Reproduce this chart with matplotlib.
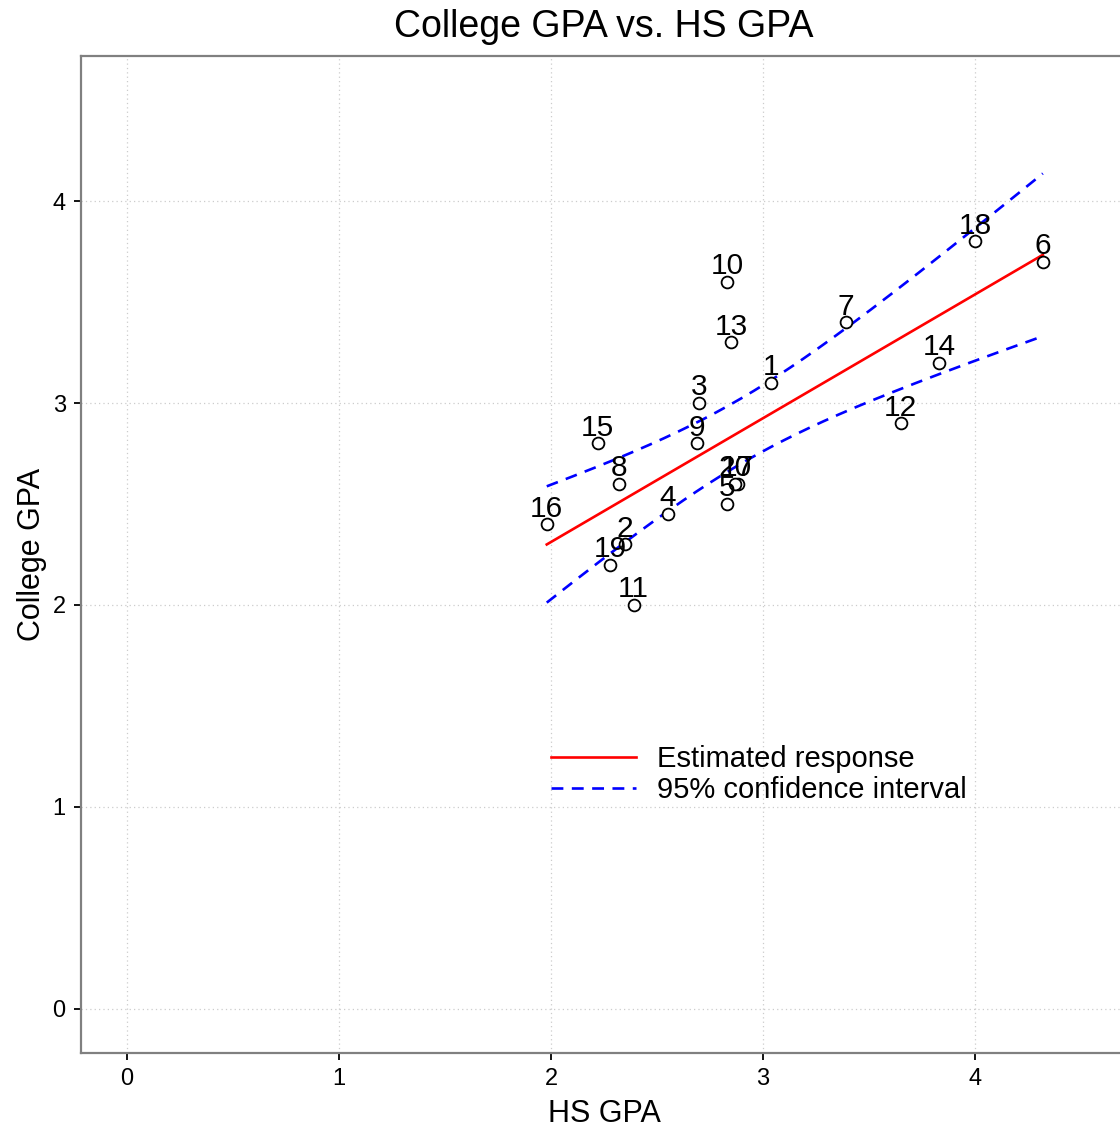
import numpy as np
import matplotlib
matplotlib.use("Agg")
import matplotlib.pyplot as plt

plt.rcParams['font.family'] = ['Liberation Sans', 'DejaVu Sans']

# Data
ids = list(range(1, 21))
hs_gpa = [3.04, 2.35, 2.70, 2.55, 2.83, 4.32, 3.39, 2.32, 2.69, 2.83,
          2.39, 3.65, 2.85, 3.83, 2.22, 1.98, 2.88, 4.00, 2.28, 2.87]
college_gpa = [3.10, 2.30, 3.00, 2.45, 2.50, 3.70, 3.40, 2.60, 2.80, 3.60,
               2.00, 2.90, 3.30, 3.20, 2.80, 2.40, 2.60, 3.80, 2.20, 2.60]
x_ticks = [0, 1, 2, 3, 4]
y_ticks = [0, 1, 2, 3, 4]
t_crit = 2.101  # t(0.975, df=18)

x = np.array(hs_gpa)
y = np.array(college_gpa)
n = len(x)
b1, b0 = np.polyfit(x, y, 1)
resid = y - (b0 + b1 * x)
s = np.sqrt(np.sum(resid ** 2) / (n - 2))
xg = np.linspace(x.min(), x.max(), 200)
yhat = b0 + b1 * xg
se = s * np.sqrt(1.0 / n + (xg - x.mean()) ** 2 / np.sum((x - x.mean()) ** 2))
upper = yhat + t_crit * se
lower = yhat - t_crit * se

fig = plt.figure(figsize=(11.2, 11.27), dpi=100)
ax = fig.add_axes([81 / 1120, 74 / 1127, (1127 - 81) / 1120, (1053 - 56) / 1127])

ax.set_xlim(-0.217, 4.717)
ax.set_ylim(-0.218, 4.718)

ax.grid(True, linestyle=(0, (1, 2.5)), color='#cccccc', linewidth=0.9)
ax.set_axisbelow(True)

ax.plot(xg, yhat, color='red', linewidth=1.9, label='Estimated response')
ax.plot(xg, upper, color='blue', linewidth=1.9, dashes=(4.5, 3.2),
        label='95% confidence interval')
ax.plot(xg, lower, color='blue', linewidth=1.9, dashes=(4.5, 3.2))

ax.plot(x, y, linestyle='none', marker='o', markersize=8.5,
        markerfacecolor='white', markeredgecolor='black', markeredgewidth=1.3,
        zorder=5)
for i, xi, yi in zip(ids, x, y):
    ax.annotate(str(i), (xi, yi), xytext=(0, 5.5), textcoords='offset points',
                ha='center', va='baseline', fontsize=21.5, color='black',
                zorder=6)

ax.set_xticks(x_ticks)
ax.set_yticks(y_ticks)
ax.tick_params(axis='both', direction='out', length=5, width=1.3,
               color='black', labelsize=17, pad=6)
for sp in ax.spines.values():
    sp.set_color('#808080')
    sp.set_linewidth(1.6)

ax.set_title('College GPA vs. HS GPA', fontsize=27, pad=14)
ax.set_xlabel('HS GPA', fontsize=22, labelpad=6)
ax.set_ylabel('College GPA', fontsize=22, labelpad=4)

leg = ax.legend(loc='upper left', bbox_to_anchor=(2.0, 1.305),
                bbox_transform=ax.transData, frameon=False, fontsize=21,
                handlelength=2.9, handletextpad=0.75, labelspacing=0.08,
                borderpad=0, borderaxespad=0)

fig.savefig('out.png', dpi=100)
